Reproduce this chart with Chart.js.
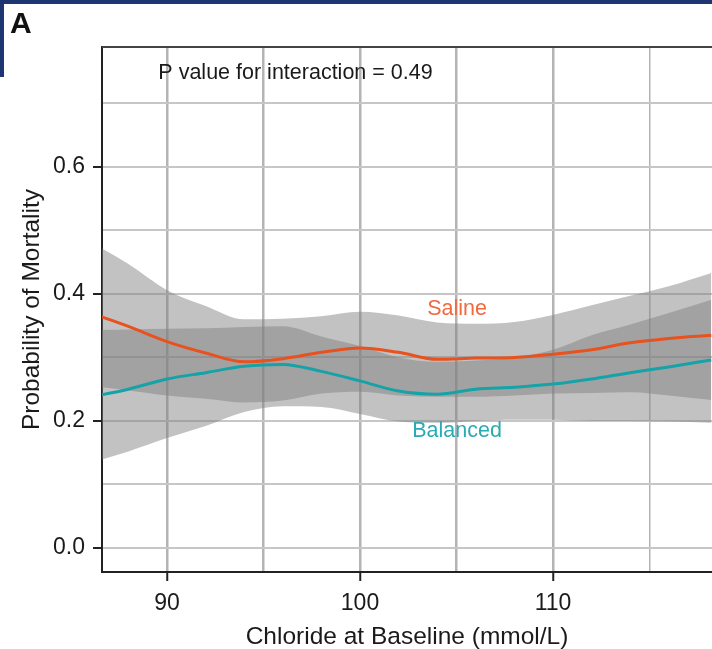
<!DOCTYPE html>
<html>
<head>
<meta charset="utf-8">
<title>Chloride at baseline vs mortality</title>
<script src="https://cdn.jsdelivr.net/npm/chart.js@4.4.1/dist/chart.umd.min.js"></script>
<style>
  html, body { margin: 0; padding: 0; background: #fff; overflow: hidden; }
  #wrap { position: relative; width: 712px; height: 649px; }
</style>
</head>
<body>
<div id="wrap"><canvas id="chart"></canvas></div>
<script>
// chloride values (mmol/L) where the curves are sampled
const chloride = [86.6, 88, 90, 92, 94, 96, 98, 100, 102, 104, 106, 108, 110, 112, 114, 116, 118.2];

// fitted probability of mortality
const saline   = [0.364, 0.349, 0.325, 0.307, 0.293, 0.298, 0.308, 0.315, 0.308, 0.297, 0.299, 0.300, 0.305, 0.312, 0.323, 0.330, 0.335];
const balanced = [0.241, 0.250, 0.266, 0.276, 0.286, 0.289, 0.278, 0.263, 0.247, 0.242, 0.250, 0.253, 0.258, 0.266, 0.276, 0.285, 0.296];

// 95% confidence bands
const salineUpper   = [0.472, 0.447, 0.406, 0.381, 0.360, 0.361, 0.365, 0.372, 0.366, 0.355, 0.353, 0.356, 0.367, 0.382, 0.397, 0.412, 0.433];
const salineLower   = [0.253, 0.248, 0.240, 0.235, 0.229, 0.232, 0.243, 0.246, 0.240, 0.238, 0.238, 0.240, 0.243, 0.244, 0.245, 0.240, 0.233];
const balancedUpper = [0.343, 0.344, 0.345, 0.346, 0.348, 0.349, 0.333, 0.318, 0.300, 0.293, 0.295, 0.300, 0.312, 0.335, 0.352, 0.370, 0.391];
const balancedLower = [0.139, 0.152, 0.173, 0.192, 0.214, 0.223, 0.222, 0.211, 0.199, 0.197, 0.200, 0.202, 0.202, 0.200, 0.200, 0.199, 0.197];

// axis ticks: grid at every value, labels only on the major ones
const xTicks = [90, 95, 100, 105, 110, 115];
const xLabelled = [90, 100, 110];
const yTicks = [0, 0.1, 0.2, 0.3, 0.4, 0.5, 0.6, 0.7];
const yLabelled = [0, 0.2, 0.4, 0.6];

const pValueText = 'P value for interaction = 0.49';

const FONT = "'Liberation Sans', Arial, sans-serif";
const SALINE_COLOR = '#e8521f';
const BALANCED_COLOR = '#15a3a8';
const BAND_FILL = 'rgba(128,128,128,0.48)';

function points(ys) {
  return chloride.map((x, i) => ({ x: x, y: ys[i] }));
}

function isMajor(list, v) {
  return list.some(m => Math.abs(m - v) < 1e-6);
}

const lineStyle = { pointRadius: 0, borderWidth: 3, cubicInterpolationMode: 'monotone', fill: false };
const bandStyle = { pointRadius: 0, borderWidth: 0, cubicInterpolationMode: 'monotone', borderColor: 'rgba(0,0,0,0)' };

// frame, panel letter, annotation, group labels, top border
const decorations = {
  id: 'decorations',
  afterDraw(chart) {
    const ctx = chart.ctx;
    const xs = chart.scales.x, ys = chart.scales.y;
    const area = chart.chartArea;
    ctx.save();

    ctx.strokeStyle = '#444';
    ctx.lineWidth = 2;
    ctx.beginPath();
    ctx.moveTo(area.left, area.top);
    ctx.lineTo(area.right, area.top);
    ctx.stroke();

    ctx.fillStyle = '#1f3571';
    ctx.fillRect(0, 0, chart.width, 4);
    ctx.fillRect(0, 0, 4, 77);

    ctx.fillStyle = '#111';
    ctx.font = 'bold 30px ' + FONT;
    ctx.textAlign = 'left';
    ctx.textBaseline = 'alphabetic';
    ctx.fillText('A', 10, 33);

    ctx.font = '21.5px ' + FONT;
    ctx.fillStyle = '#1a1a1a';
    ctx.textBaseline = 'middle';
    ctx.fillText(pValueText, xs.getPixelForValue(89.55), ys.getPixelForValue(0.748));

    ctx.textAlign = 'center';
    ctx.fillStyle = '#f06a3e';
    ctx.fillText('Saline', xs.getPixelForValue(105.03), ys.getPixelForValue(0.376));
    ctx.fillStyle = '#2aabb3';
    ctx.fillText('Balanced', xs.getPixelForValue(105.03), ys.getPixelForValue(0.184));

    ctx.restore();
  }
};

new Chart(document.getElementById('chart'), {
  type: 'line',
  data: {
    datasets: [
      Object.assign({ label: 'Saline', data: points(saline), borderColor: SALINE_COLOR }, lineStyle),
      Object.assign({ label: 'Balanced', data: points(balanced), borderColor: BALANCED_COLOR }, lineStyle),
      Object.assign({ label: 'Saline upper', data: points(salineUpper), fill: '+1', backgroundColor: BAND_FILL }, bandStyle),
      Object.assign({ label: 'Saline lower', data: points(salineLower), fill: false }, bandStyle),
      Object.assign({ label: 'Balanced upper', data: points(balancedUpper), fill: '+1', backgroundColor: BAND_FILL }, bandStyle),
      Object.assign({ label: 'Balanced lower', data: points(balancedLower), fill: false }, bandStyle)
    ]
  },
  options: {
    responsive: true,
    maintainAspectRatio: false,
    devicePixelRatio: 1,
    animation: false,
    layout: { padding: { top: 47, right: 0, left: 0, bottom: 0 } },
    plugins: { legend: { display: false }, tooltip: { enabled: false } },
    scales: {
      x: {
        type: 'linear',
        min: 86.63,
        max: 118.24,
        afterBuildTicks(scale) { scale.ticks = xTicks.map(v => ({ value: v })); },
        afterFit(scale) { scale.height = 77; },
        ticks: {
          padding: 9,
          color: '#1a1a1a',
          font: { family: FONT, size: 23 },
          maxRotation: 0,
          autoSkip: false,
          callback: v => isMajor(xLabelled, v) ? String(v) : ''
        },
        grid: {
          color: '#b4b4b4',
          lineWidth: ctx => ctx.tick && ctx.tick.value === 115 ? 1.5 : 2.5,
          tickLength: 9,
          tickWidth: 2,
          tickColor: ctx => ctx.tick && isMajor(xLabelled, ctx.tick.value) ? '#222' : 'rgba(0,0,0,0)'
        },
        border: { display: true, color: '#222', width: 2 },
        title: {
          display: true,
          text: 'Chloride at Baseline (mmol/L)',
          color: '#1a1a1a',
          font: { family: FONT, size: 24.5, lineHeight: 1 },
          padding: { top: 0, bottom: 0 }
        }
      },
      y: {
        type: 'linear',
        min: -0.038,
        max: 0.789,
        afterBuildTicks(scale) { scale.ticks = yTicks.map(v => ({ value: v })); },
        afterFit(scale) { scale.width = 102; },
        ticks: {
          padding: 8,
          color: '#1a1a1a',
          font: { family: FONT, size: 23 },
          autoSkip: false,
          callback: v => isMajor(yLabelled, v) ? v.toFixed(1) : ''
        },
        grid: {
          color: '#c6c6c6',
          lineWidth: 2,
          tickLength: 9,
          tickWidth: 2,
          tickColor: ctx => ctx.tick && isMajor(yLabelled, ctx.tick.value) ? '#222' : 'rgba(0,0,0,0)'
        },
        border: { display: true, color: '#222', width: 2 },
        title: {
          display: true,
          text: 'Probability of Mortality',
          color: '#1a1a1a',
          font: { family: FONT, size: 24.5, lineHeight: 1.2 },
          padding: { top: 18, bottom: 0 }
        }
      }
    }
  },
  plugins: [decorations]
});
</script>
</body>
</html>
